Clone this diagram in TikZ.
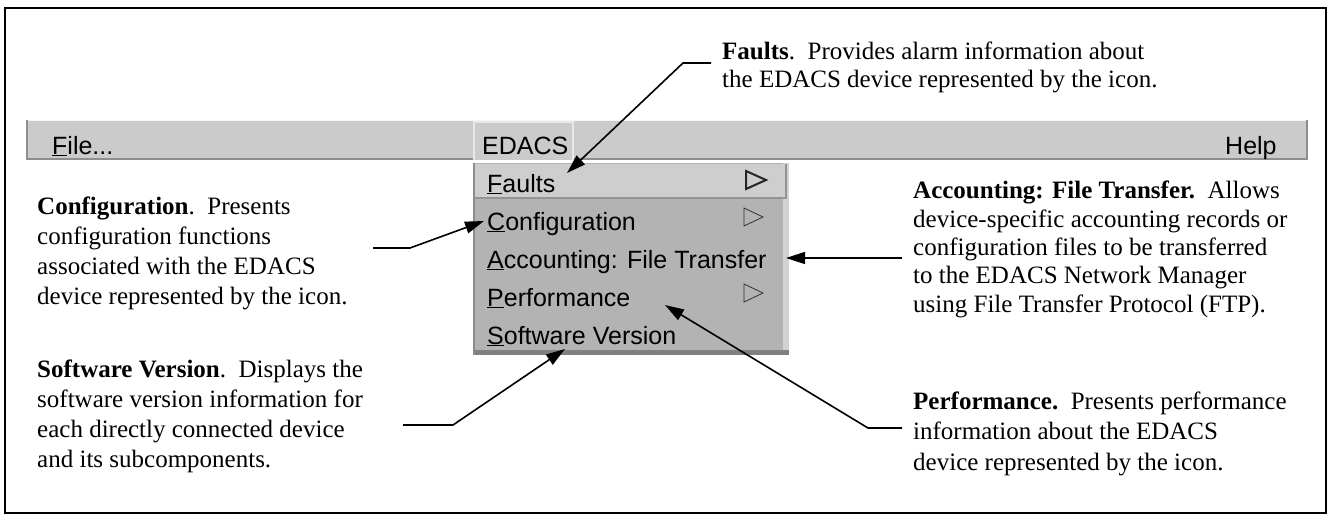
\documentclass[tikz,border=0pt]{standalone}
\usepackage{fontspec}
\setmainfont{Liberation Serif}
\setsansfont{Liberation Sans}
\usetikzlibrary{arrows.meta}
\definecolor{barfill}{HTML}{CBCBCB}
\definecolor{baredge}{HTML}{8E8E8E}
\definecolor{menufill}{HTML}{B3B3B3}
\definecolor{menulight}{HTML}{D2D2D2}
\definecolor{menudark}{HTML}{808080}
\definecolor{hilite}{HTML}{CECECE}
\definecolor{tabedge}{HTML}{E8E8E8}
\begin{document}
\begin{tikzpicture}[x=1pt,y=-1pt,
  lbl/.style={anchor=base west, align=left, inner sep=0pt, font=\fontsize{25}{30}\selectfont},
  mitem/.style={anchor=base west, inner sep=0pt, font=\sffamily\fontsize{25}{30}\selectfont},
  arr/.style={line width=1.6pt, -{Triangle[length=19pt,width=12pt]}},
  tri/.style={draw=black!80, line width=0.8pt, line join=miter}]
\useasboundingbox (0,0) rectangle (1331,517);
% outer frame
\draw[line width=2.5pt] (5,8) rectangle (1326,513);
% menu bar
\fill[barfill] (26,120) rectangle (1308,160);
\draw[white!80!barfill, line width=1pt] (26,120.5) -- (1308,120.5);
\draw[baredge, line width=2pt] (27,120) -- (27,159) -- (1307,159) -- (1307,120);
% EDACS tab
\fill[barfill] (473,121) rectangle (574,160);
\draw[tabedge, line width=2pt] (474,160) -- (474,122) -- (573,122) -- (573,160);
\node[mitem] (mFile) at (52,154) {\underline{F}ile...};
\node[mitem] (mEdacs) at (482,154) {EDACS};
\node[mitem] (mHelp) at (1225,154) {Help};
% dropdown
\fill[menufill] (473,163) rectangle (789,355);
\fill[menulight] (783,163) rectangle (789,355);
\fill[menudark] (473,350) rectangle (789,355);
\draw[black!45, line width=1.5pt] (474,163) -- (474,355);
\fill[hilite] (475,164) rectangle (786,198);
\draw[black!42, line width=2pt] (475,198) -- (786,198) -- (786,164);
\node[mitem] (miFaults) at (487,192) {\underline{F}aults};
\node[mitem] (miConf) at (487,230) {\underline{C}onfiguration};
\node[mitem] (miAcc) at (487,268) {\underline{A}ccounting: File Transfer};
\node[mitem] (miPerf) at (487,306) {\underline{P}erformance};
\node[mitem] (miSoft) at (487,344) {\underline{S}oftware Version};
% submenu triangles
\draw[tri, line width=2pt, draw=black!85] (746,171) -- (766,180) -- (746,189) -- cycle;
\draw[tri] (744,208) -- (763,217) -- (744,226) -- cycle;
\draw[tri] (744,284) -- (763,293) -- (744,302) -- cycle;
% labels (anchored at the baseline of their last line)
\node[lbl, font=\fontsize{25}{28}\selectfont] (lFaults) at (722,87)
  {\textbf{Faults}.\ \ Provides alarm information about\\the EDACS device represented by the icon.};
\node[lbl] (lConf) at (37,304)
  {\textbf{Configuration}.\ \ Presents\\configuration functions\\associated with the EDACS\\device represented by the icon.};
\node[lbl] (lSoft) at (37,467)
  {\textbf{Software Version}.\ \ Displays the\\software version information for\\each directly connected device\\and its subcomponents.};
\node[lbl, font=\fontsize{25}{28.3}\selectfont] (lAcc) at (913,312)
  {\textbf{Accounting: File Transfer.}\ \ Allows\\device-specific accounting records or\\configuration files to be transferred\\to the EDACS Network Manager\\using File Transfer Protocol (FTP).};
\node[lbl, font=\fontsize{25}{30.5}\selectfont] (lPerf) at (913,470)
  {\textbf{Performance.}\ \ Presents performance\\information about the EDACS\\device represented by the icon.};
% leader geometry
\coordinate (fElb) at (683,63);
\coordinate (fTip) at (567,173);
\coordinate (cStart) at (373,248);
\coordinate (cElb) at (410,248);
\coordinate (cTip) at (484,221);
\coordinate (aTip) at (786,258);
\coordinate (pElb) at (868,428);
\coordinate (pTip) at (665,305);
\coordinate (sStart) at (403,425);
\coordinate (sElb) at (453,425);
\coordinate (sTip) at (565,349);
% connectors
\draw[arr] (fElb -| lFaults.west) ++(-11,0) -- (fElb) -- (fTip);
\draw[arr] (cStart) -- (cElb) -- (cTip);
\draw[arr] (aTip -| lAcc.west) ++(-11,0) -- (aTip);
\draw[arr] (pElb -| lPerf.west) ++(-11,0) -- (pElb) -- (pTip);
\draw[arr] (sStart) -- (sElb) -- (sTip);
\end{tikzpicture}
\end{document}
